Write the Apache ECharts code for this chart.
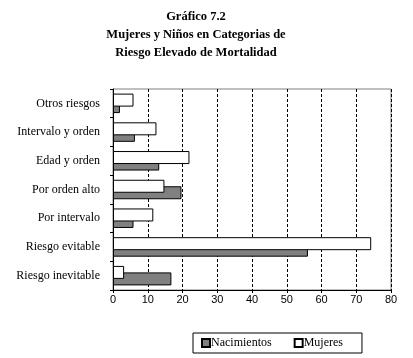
<!DOCTYPE html>
<html>
<head>
<meta charset="utf-8">
<script src="https://cdn.jsdelivr.net/npm/echarts@6/dist/echarts.min.js"></script>
<style>html,body{margin:0;padding:0;background:#fff;}#c{width:413px;height:358px;}</style>
</head>
<body>
<div id="c"></div>
<script>
const categories = ['Otros riesgos', 'Intervalo y orden', 'Edad y orden', 'Por orden alto', 'Por intervalo', 'Riesgo evitable', 'Riesgo inevitable'];
const nacimientos = [2.0, 6.3, 13.3, 19.7, 5.9, 56.1, 16.8];
const mujeres = [5.9, 12.5, 22.0, 14.8, 11.6, 74.3, 3.2];
const xTicks = [0, 10, 20, 30, 40, 50, 60, 70, 80];
const titleLines = ['Gráfico 7.2', 'Mujeres y Niños en Categorias de', 'Riesgo Elevado de Mortalidad'];

const chart = echarts.init(document.getElementById('c'), null, {renderer: 'canvas'});
const serif = 'Liberation Serif';
chart.setOption({
  backgroundColor: '#fff',
  animation: false,
  graphic: [{
    type: 'text', x: 196, y: 8,
    style: {
      text: titleLines.join('\n'), align: 'center', verticalAlign: 'top',
      font: 'bold 12.5px "Liberation Serif"', lineHeight: 18, fill: '#000'
    }
  }],
  grid: {left: 113, right: 22, top: 89, bottom: 68, show: true, borderColor: '#808080', borderWidth: 1, backgroundColor: 'transparent'},
  legend: {
    left: 193, top: 333, orient: 'horizontal',
    padding: [4, 19, 4, 8], itemGap: 22,
    borderColor: '#000', borderWidth: 1,
    icon: 'rect', itemWidth: 8, itemHeight: 8,
    textStyle: {fontFamily: serif, fontSize: 12, color: '#000', padding: [0, 0, 0, -4]},
    data: ['Nacimientos', 'Mujeres']
  },
  xAxis: {
    type: 'value', min: xTicks[0], max: xTicks[xTicks.length - 1], interval: 10,
    axisLine: {show: true, lineStyle: {color: '#000', width: 1}},
    axisTick: {show: true, length: 3, lineStyle: {color: '#000'}},
    axisLabel: {color: '#000', fontFamily: 'Liberation Sans', fontSize: 11, margin: 4},
    splitLine: {show: true, lineStyle: {color: '#000', type: [3, 2], width: 1}}
  },
  yAxis: {
    type: 'category', data: categories, inverse: true,
    axisLine: {show: true, lineStyle: {color: '#000', width: 1}},
    axisTick: {show: true, length: 3, lineStyle: {color: '#000'}},
    axisLabel: {color: '#000', fontFamily: serif, fontSize: 12, margin: 13},
    splitLine: {show: false}
  },
  series: [
    {name: 'Mujeres', type: 'bar', data: mujeres, barWidth: 13, barGap: '-50%', z: 3,
     itemStyle: {color: '#fff', borderColor: '#000', borderWidth: 1}},
    {name: 'Nacimientos', type: 'bar', data: nacimientos, barWidth: 13, barGap: '-50%', z: 2,
     itemStyle: {color: '#808080', borderColor: '#000', borderWidth: 1}}
  ]
});
</script>
</body>
</html>
